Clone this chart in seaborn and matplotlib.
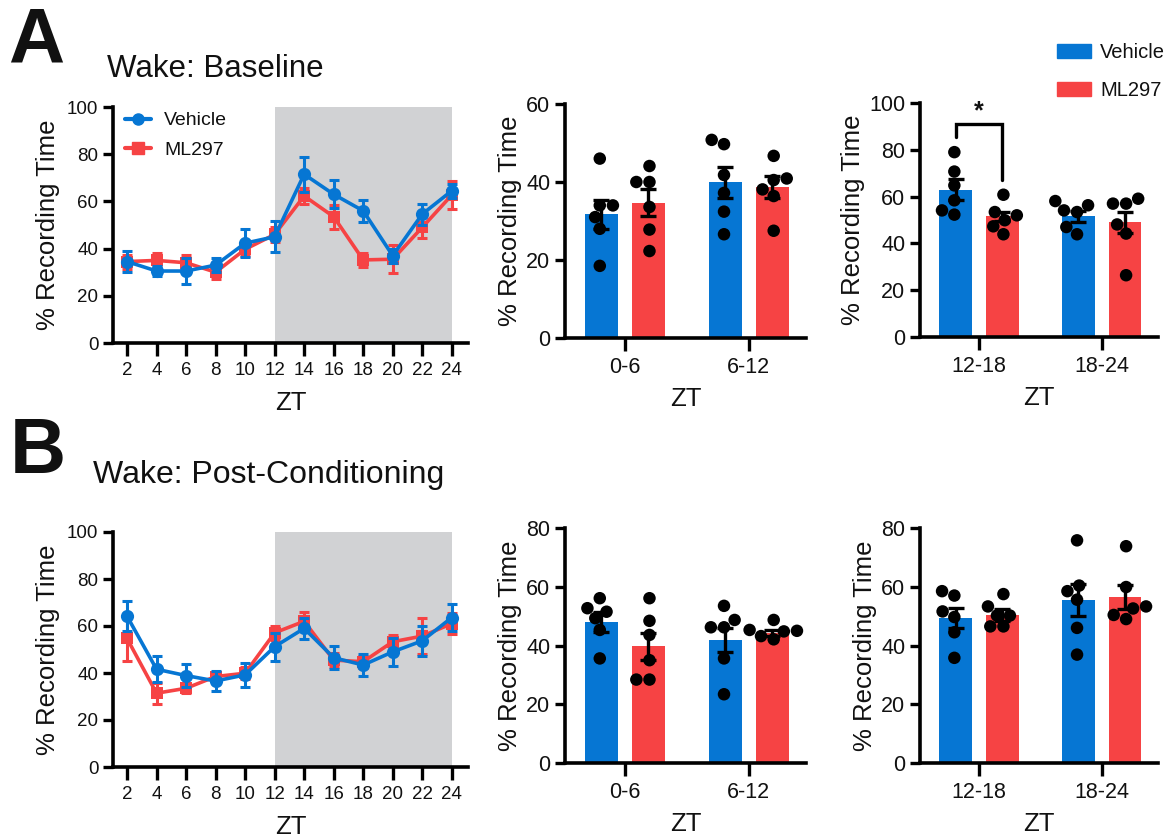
import numpy as np
import pandas as pd
import matplotlib
matplotlib.use("Agg")
import matplotlib.pyplot as plt
import seaborn as sns
from matplotlib.lines import Line2D
from matplotlib.patches import Patch

sns.set_theme(style="ticks")
plt.rcParams['font.family'] = ['Liberation Sans', 'DejaVu Sans']
plt.rcParams['text.color'] = '#111111'
plt.rcParams['axes.labelcolor'] = '#111111'
plt.rcParams['xtick.color'] = '#111111'
plt.rcParams['ytick.color'] = '#111111'

BLUE = '#0676D3'
RED = '#F64344'
drugs = ['Vehicle', 'ML297']
palette = {'Vehicle': BLUE, 'ML297': RED}

# ---------------- data ----------------
zt = [2, 4, 6, 8, 10, 12, 14, 16, 18, 20, 22, 24]

# Panel A line (baseline)
a_veh_mean = [34.5, 30.5, 30.5, 33.0, 42.3, 45.0, 71.5, 63.0, 56.0, 37.0, 54.6, 64.5]
a_veh_sem = [4.5, 2.0, 5.5, 3.0, 6.0, 6.5, 7.5, 6.0, 4.8, 3.0, 4.5, 3.0]
a_ml_mean = [34.5, 35.0, 34.0, 30.0, 39.7, 46.0, 62.3, 53.5, 35.2, 35.5, 49.0, 62.7]
a_ml_sem = [3.0, 3.0, 3.5, 3.0, 3.0, 3.0, 3.5, 5.0, 3.0, 6.0, 4.5, 6.0]

# Panel B line (post-conditioning)
b_veh_mean = [64.2, 41.6, 38.9, 36.6, 39.2, 51.2, 59.0, 46.5, 43.4, 49.0, 53.7, 63.6]
b_veh_sem = [6.5, 5.5, 4.8, 4.4, 5.0, 6.0, 4.5, 5.0, 4.8, 6.0, 6.5, 5.7]
b_ml_mean = [54.7, 31.4, 33.5, 38.5, 39.9, 57.1, 62.0, 45.5, 44.8, 53.3, 55.7, 61.0]
b_ml_sem = [9.5, 4.5, 2.0, 2.0, 2.5, 3.0, 4.0, 3.0, 2.5, 3.0, 7.5, 4.5]

# Bar panels: group labels
grp_light = ['0-6', '6-12']
grp_dark = ['12-18', '18-24']

# Baseline light phase
a1_veh_mean = [31.7, 39.9]
a1_veh_sem = [3.8, 3.9]
a1_ml_mean = [34.7, 38.8]
a1_ml_sem = [3.4, 2.8]
a1_veh_pts = [[46.0, 34.0, 34.0, 31.0, 28.0, 18.5], [49.7, 50.8, 41.8, 37.2, 32.4, 26.6]]
a1_ml_pts = [[44.1, 40.0, 40.0, 33.6, 27.8, 22.3], [46.7, 40.9, 40.5, 38.1, 36.4, 27.5]]

# Baseline dark phase
a2_veh_mean = [63.0, 51.5]
a2_veh_sem = [4.5, 2.5]
a2_ml_mean = [51.5, 49.0]
a2_ml_sem = [2.0, 4.6]
a2_veh_pts = [[79.0, 70.7, 64.8, 58.4, 54.1, 52.3], [58.1, 56.3, 54.1, 53.4, 47.0, 43.9]]
a2_ml_pts = [[60.8, 53.4, 52.0, 49.9, 47.3, 43.9], [59.1, 57.0, 57.0, 48.1, 44.2, 26.4]]

# Post-conditioning light phase
b1_veh_mean = [48.1, 41.9]
b1_veh_sem = [3.4, 4.0]
b1_ml_mean = [39.8, 44.4]
b1_ml_sem = [4.6, 1.0]
b1_veh_pts = [[56.1, 52.7, 51.5, 49.3, 45.3, 35.6], [53.5, 48.7, 46.2, 46.2, 35.6, 23.4]]
b1_ml_pts = [[56.1, 48.4, 43.6, 35.0, 28.4, 28.4], [48.7, 45.3, 45.0, 44.8, 43.2, 42.1]]

# Post-conditioning dark phase
b2_veh_mean = [49.4, 55.4]
b2_veh_sem = [3.5, 5.4]
b2_ml_mean = [50.5, 56.5]
b2_ml_sem = [2.0, 4.0]
b2_veh_pts = [[58.5, 57.0, 51.6, 49.7, 44.5, 35.8], [75.8, 60.4, 58.5, 55.6, 46.0, 36.9]]
b2_ml_pts = [[57.5, 53.3, 50.2, 50.2, 46.5, 46.5], [73.8, 59.9, 53.3, 52.6, 50.4, 49.0]]

# ---------------- figure ----------------
fig = plt.figure(figsize=(11.72, 8.39), dpi=100)
W, H = 1172, 839


def add_ax(left, top, right, bottom):
    return fig.add_axes([left / W, 1 - bottom / H, (right - left) / W, (bottom - top) / H])


def style_ax(ax, tick_fs):
    sns.despine(ax=ax)
    for s in ['left', 'bottom']:
        ax.spines[s].set_linewidth(2.6)
        ax.spines[s].set_color('black')
    ax.tick_params(axis='both', width=2.4, length=7, labelsize=tick_fs, color='black')
    ax.tick_params(axis='x', length=9, pad=5)


def line_panel(ax, veh_m, veh_s, ml_m, ml_s, show_legend):
    ax.axvspan(12, 24, color='#D1D2D4', zorder=0, lw=0)
    d_ml = pd.DataFrame({'ZT': zt, 'v': ml_m})
    d_veh = pd.DataFrame({'ZT': zt, 'v': veh_m})
    sns.lineplot(data=d_ml, x='ZT', y='v', color=RED, marker='s', markersize=9,
                 markeredgewidth=0, linewidth=2.6, ax=ax, zorder=3)
    ax.errorbar(zt, ml_m, yerr=ml_s, fmt='none', ecolor=RED, elinewidth=2.2,
                capsize=3.5, capthick=2.2, zorder=3)
    sns.lineplot(data=d_veh, x='ZT', y='v', color=BLUE, marker='o', markersize=9.5,
                 markeredgewidth=0, linewidth=2.6, ax=ax, zorder=4)
    ax.errorbar(zt, veh_m, yerr=veh_s, fmt='none', ecolor=BLUE, elinewidth=2.2,
                capsize=3.5, capthick=2.2, zorder=4)
    ax.set_xlim(1.05, 25.1)
    ax.set_ylim(0, 100)
    ax.set_xticks(zt)
    ax.set_yticks([0, 20, 40, 60, 80, 100])
    ax.set_xlabel('ZT', fontsize=18.5, labelpad=8)
    ax.set_ylabel('% Recording Time', fontsize=18.5, labelpad=5)
    style_ax(ax, 13.5)
    if show_legend:
        handles = [Line2D([], [], color=BLUE, marker='o', markersize=8, lw=3),
                   Line2D([], [], color=RED, marker='s', markersize=8, lw=3)]
        ax.legend(handles, drugs, loc='upper left', bbox_to_anchor=(0.035, 0.98),
                  frameon=False, fontsize=14, handlelength=1.3, handletextpad=0.7,
                  labelspacing=0.6, borderaxespad=0, borderpad=0)


def bar_panel(ax, groups, veh_m, veh_s, ml_m, ml_s, veh_pts, ml_pts, ymax, yticks):
    df = pd.DataFrame({'ZT': groups * 2,
                       'drug': ['Vehicle'] * 2 + ['ML297'] * 2,
                       'mean': list(veh_m) + list(ml_m)})
    sns.barplot(data=df, x='ZT', y='mean', hue='drug', hue_order=drugs, order=groups,
                palette=palette, width=0.76, gap=0.3, errorbar=None, saturation=1,
                legend=False, ax=ax, linewidth=0)
    rows = []
    for g, pv, pm in zip(groups, veh_pts, ml_pts):
        rows += [(g, 'Vehicle', v) for v in pv]
        rows += [(g, 'ML297', v) for v in pm]
    pts = pd.DataFrame(rows, columns=['ZT', 'drug', 'v'])
    sns.swarmplot(data=pts, x='ZT', y='v', hue='drug', hue_order=drugs, order=groups,
                  palette={'Vehicle': 'black', 'ML297': 'black'}, dodge=True, size=9,
                  linewidth=0, legend=False, ax=ax, zorder=4)
    centers = {}
    for cont, d, m, s in zip(ax.containers, drugs, [veh_m, ml_m], [veh_s, ml_s]):
        xs = [b.get_x() + b.get_width() / 2 for b in cont]
        centers[d] = xs
        ax.errorbar(xs, m, yerr=s, fmt='none', ecolor='black', elinewidth=2.4,
                    capsize=6, capthick=2.4, zorder=5)
    ax.set_xlim(-0.48, 1.46)
    ax.set_ylim(0, ymax)
    ax.set_yticks(yticks)
    ax.set_xlabel('ZT', fontsize=18.5, labelpad=6)
    ax.set_ylabel('% Recording Time', fontsize=18.5, labelpad=3)
    style_ax(ax, 15.5)
    return centers


# Panel A
axA0 = add_ax(113, 107, 468, 343)
line_panel(axA0, a_veh_mean, a_veh_sem, a_ml_mean, a_ml_sem, True)
axA1 = add_ax(565, 104, 806, 338)
bar_panel(axA1, grp_light, a1_veh_mean, a1_veh_sem, a1_ml_mean, a1_ml_sem,
          a1_veh_pts, a1_ml_pts, 60, [0, 20, 40, 60])
axA2 = add_ax(920, 103, 1158, 337)
cA2 = bar_panel(axA2, grp_dark, a2_veh_mean, a2_veh_sem, a2_ml_mean, a2_ml_sem,
                a2_veh_pts, a2_ml_pts, 100, [0, 20, 40, 60, 80, 100])
x1, x2 = cA2['Vehicle'][0], cA2['ML297'][0]
axA2.plot([x1, x1, x2, x2], [85.5, 91, 91, 67], color='black', lw=2.4, clip_on=False,
          solid_joinstyle='miter', zorder=6)
axA2.text((x1 + x2) / 2, 91.5, '*', ha='center', va='bottom', fontsize=18, fontweight='bold')

# Panel B
axB0 = add_ax(113, 532, 468, 767)
line_panel(axB0, b_veh_mean, b_veh_sem, b_ml_mean, b_ml_sem, False)
axB1 = add_ax(565, 528, 806, 763)
bar_panel(axB1, grp_light, b1_veh_mean, b1_veh_sem, b1_ml_mean, b1_ml_sem,
          b1_veh_pts, b1_ml_pts, 80, [0, 20, 40, 60, 80])
axB2 = add_ax(920, 528, 1158, 763)
bar_panel(axB2, grp_dark, b2_veh_mean, b2_veh_sem, b2_ml_mean, b2_ml_sem,
          b2_veh_pts, b2_ml_pts, 80, [0, 20, 40, 60, 80])

# Figure legend (top right)
fig.legend([Patch(color=BLUE), Patch(color=RED)], drugs, loc='upper left',
           bbox_to_anchor=(1057 / W, 1 - 43 / H), frameon=False, fontsize=14.5,
           handlelength=1.7, handleheight=0.65, handletextpad=0.45, labelspacing=0.95,
           borderpad=0, borderaxespad=0)

# Panel letters and titles
fig.text(8 / W, 1 - 63 / H, 'A', fontsize=56, fontweight='bold', ha='left', va='baseline')
fig.text(107 / W, 1 - 77 / H, 'Wake: Baseline', fontsize=22.5, ha='left', va='baseline')
fig.text(10 / W, 1 - 473 / H, 'B', fontsize=56, fontweight='bold', ha='left', va='baseline')
fig.text(93 / W, 1 - 483 / H, 'Wake: Post-Conditioning', fontsize=23, ha='left', va='baseline')

fig.savefig('out.png', dpi=100)
